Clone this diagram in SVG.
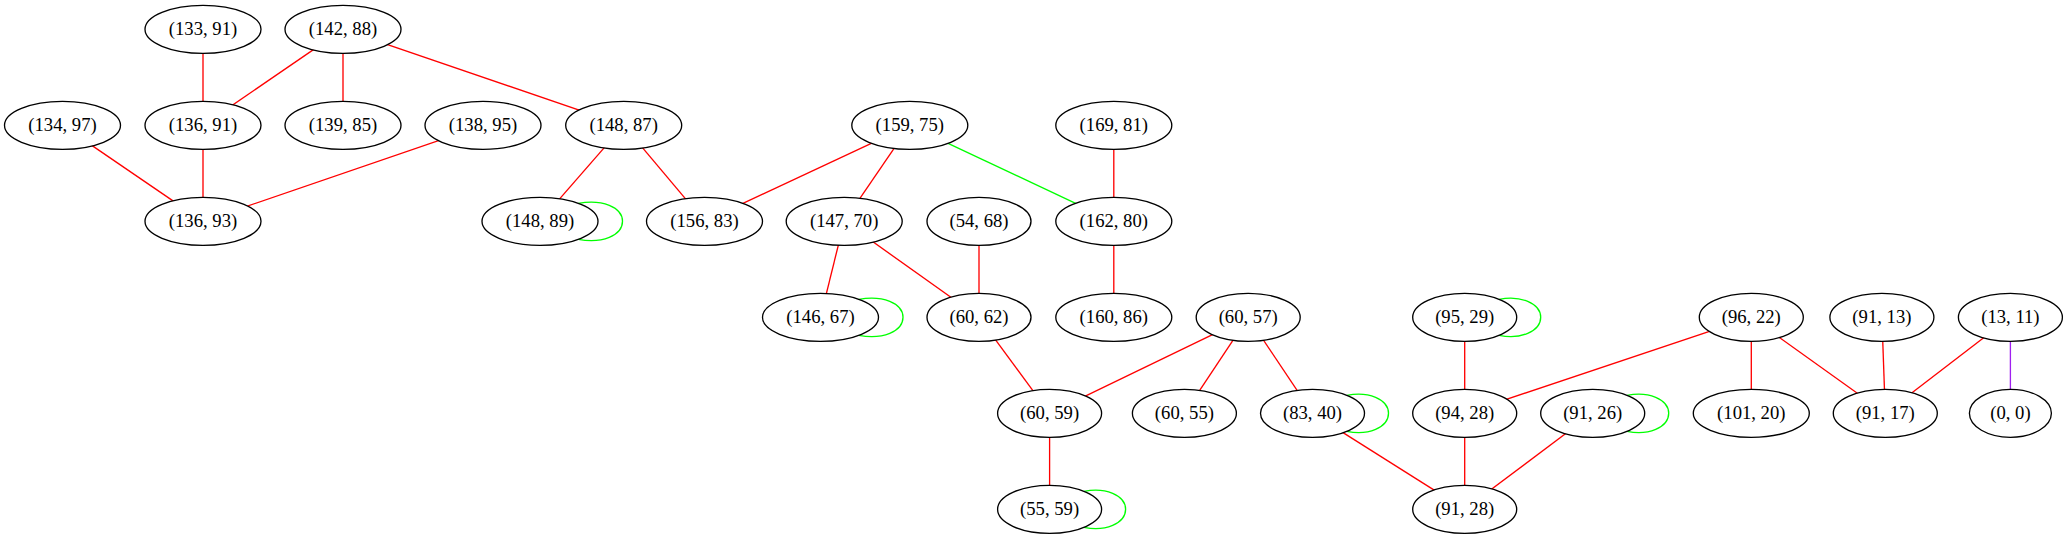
<svg xmlns="http://www.w3.org/2000/svg" width="2067" height="539" viewBox="0 0 2067 539">
<style>
.n ellipse{fill:#ffffff;stroke:#000000;stroke-width:1.33}
.n text{font-family:"Times New Roman","Liberation Serif",Times,serif;font-size:18.67px;text-anchor:middle;fill:#000000}
.e{fill:none;stroke-width:1.33}
.r{stroke:#ff0000}
.g{stroke:#00ff00}
.p{stroke:#a020f0}
</style>
<rect x="0" y="0" width="2067" height="539" fill="#ffffff"/>
<g id="edges">
<line class="e r" x1="203" y1="29.33" x2="203" y2="125.33"/>
<line class="e r" x1="343" y1="29.33" x2="203" y2="125.33"/>
<line class="e r" x1="343" y1="29.33" x2="343" y2="125.33"/>
<line class="e r" x1="343" y1="29.33" x2="623.7" y2="125.33"/>
<line class="e r" x1="62.5" y1="125.33" x2="203" y2="221.33"/>
<line class="e r" x1="203" y1="125.33" x2="203" y2="221.33"/>
<line class="e r" x1="483" y1="125.33" x2="203" y2="221.33"/>
<line class="e r" x1="623.7" y1="125.33" x2="540" y2="221.33"/>
<line class="e r" x1="623.7" y1="125.33" x2="704.5" y2="221.33"/>
<line class="e r" x1="909.8" y1="125.33" x2="704.5" y2="221.33"/>
<line class="e r" x1="909.8" y1="125.33" x2="844.2" y2="221.33"/>
<line class="e g" x1="909.8" y1="125.33" x2="1113.8" y2="221.33"/>
<line class="e r" x1="1113.8" y1="125.33" x2="1113.8" y2="221.33"/>
<line class="e r" x1="844.2" y1="221.33" x2="820.5" y2="317.33"/>
<line class="e r" x1="844.2" y1="221.33" x2="979" y2="317.33"/>
<line class="e r" x1="979" y1="221.33" x2="979" y2="317.33"/>
<line class="e r" x1="1113.8" y1="221.33" x2="1113.8" y2="317.33"/>
<line class="e r" x1="979" y1="317.33" x2="1049.6" y2="413.33"/>
<line class="e r" x1="1248.2" y1="317.33" x2="1049.6" y2="413.33"/>
<line class="e r" x1="1248.2" y1="317.33" x2="1184.4" y2="413.33"/>
<line class="e r" x1="1248.2" y1="317.33" x2="1312.5" y2="413.33"/>
<line class="e r" x1="1049.6" y1="413.33" x2="1049.6" y2="509.33"/>
<line class="e r" x1="1312.5" y1="413.33" x2="1464.7" y2="509.33"/>
<line class="e r" x1="1464.7" y1="317.33" x2="1464.7" y2="413.33"/>
<line class="e r" x1="1751.3" y1="317.33" x2="1464.7" y2="413.33"/>
<line class="e r" x1="1751.3" y1="317.33" x2="1751.3" y2="413.33"/>
<line class="e r" x1="1751.3" y1="317.33" x2="1885.3" y2="413.33"/>
<line class="e r" x1="1881.9" y1="317.33" x2="1885.3" y2="413.33"/>
<line class="e r" x1="2010.4" y1="317.33" x2="1885.3" y2="413.33"/>
<line class="e p" x1="2010.4" y1="317.33" x2="2010.4" y2="413.33"/>
<line class="e r" x1="1464.7" y1="413.33" x2="1464.7" y2="509.33"/>
<line class="e r" x1="1592.7" y1="413.33" x2="1464.7" y2="509.33"/>
<path class="e g" d="M578.3,203.33 C602,199 622.5,207 622.5,221.33 C622.5,235.7 602,243.7 578.3,239.33"/>
<path class="e g" d="M858.8,299.33 C882.5,295 903,303 903,317.33 C903,331.7 882.5,339.7 858.8,335.33"/>
<path class="e g" d="M1084,491.33 C1105,487 1125.6,495 1125.6,509.33 C1125.6,523.7 1105,531.7 1084,527.33"/>
<path class="e g" d="M1346.9,395.33 C1368,391 1388.5,399 1388.5,413.33 C1388.5,427.7 1368,435.7 1346.9,431.33"/>
<path class="e g" d="M1499.1,299.33 C1520,295 1540.7,303 1540.7,317.33 C1540.7,331.7 1520,339.7 1499.1,335.33"/>
<path class="e g" d="M1627.1,395.33 C1648,391 1668.7,399 1668.7,413.33 C1668.7,427.7 1648,435.7 1627.1,431.33"/>
</g>
<g id="n133_91" class="n"><ellipse cx="203" cy="29.33" rx="58" ry="24"/><text x="203" y="34.93">(133, 91)</text></g>
<g id="n142_88" class="n"><ellipse cx="343" cy="29.33" rx="58" ry="24"/><text x="343" y="34.93">(142, 88)</text></g>
<g id="n134_97" class="n"><ellipse cx="62.5" cy="125.33" rx="58" ry="24"/><text x="62.5" y="130.93">(134, 97)</text></g>
<g id="n136_91" class="n"><ellipse cx="203" cy="125.33" rx="58" ry="24"/><text x="203" y="130.93">(136, 91)</text></g>
<g id="n139_85" class="n"><ellipse cx="343" cy="125.33" rx="58" ry="24"/><text x="343" y="130.93">(139, 85)</text></g>
<g id="n138_95" class="n"><ellipse cx="483" cy="125.33" rx="58" ry="24"/><text x="483" y="130.93">(138, 95)</text></g>
<g id="n148_87" class="n"><ellipse cx="623.7" cy="125.33" rx="58" ry="24"/><text x="623.7" y="130.93">(148, 87)</text></g>
<g id="n159_75" class="n"><ellipse cx="909.8" cy="125.33" rx="58" ry="24"/><text x="909.8" y="130.93">(159, 75)</text></g>
<g id="n169_81" class="n"><ellipse cx="1113.8" cy="125.33" rx="58" ry="24"/><text x="1113.8" y="130.93">(169, 81)</text></g>
<g id="n136_93" class="n"><ellipse cx="203" cy="221.33" rx="58" ry="24"/><text x="203" y="226.93">(136, 93)</text></g>
<g id="n148_89" class="n"><ellipse cx="540" cy="221.33" rx="58" ry="24"/><text x="540" y="226.93">(148, 89)</text></g>
<g id="n156_83" class="n"><ellipse cx="704.5" cy="221.33" rx="58" ry="24"/><text x="704.5" y="226.93">(156, 83)</text></g>
<g id="n147_70" class="n"><ellipse cx="844.2" cy="221.33" rx="58" ry="24"/><text x="844.2" y="226.93">(147, 70)</text></g>
<g id="n54_68" class="n"><ellipse cx="979" cy="221.33" rx="52" ry="24"/><text x="979" y="226.93">(54, 68)</text></g>
<g id="n162_80" class="n"><ellipse cx="1113.8" cy="221.33" rx="58" ry="24"/><text x="1113.8" y="226.93">(162, 80)</text></g>
<g id="n146_67" class="n"><ellipse cx="820.5" cy="317.33" rx="58" ry="24"/><text x="820.5" y="322.93">(146, 67)</text></g>
<g id="n60_62" class="n"><ellipse cx="979" cy="317.33" rx="52" ry="24"/><text x="979" y="322.93">(60, 62)</text></g>
<g id="n160_86" class="n"><ellipse cx="1113.8" cy="317.33" rx="58" ry="24"/><text x="1113.8" y="322.93">(160, 86)</text></g>
<g id="n60_57" class="n"><ellipse cx="1248.2" cy="317.33" rx="52" ry="24"/><text x="1248.2" y="322.93">(60, 57)</text></g>
<g id="n95_29" class="n"><ellipse cx="1464.7" cy="317.33" rx="52" ry="24"/><text x="1464.7" y="322.93">(95, 29)</text></g>
<g id="n96_22" class="n"><ellipse cx="1751.3" cy="317.33" rx="52" ry="24"/><text x="1751.3" y="322.93">(96, 22)</text></g>
<g id="n91_13" class="n"><ellipse cx="1881.9" cy="317.33" rx="52" ry="24"/><text x="1881.9" y="322.93">(91, 13)</text></g>
<g id="n13_11" class="n"><ellipse cx="2010.4" cy="317.33" rx="52" ry="24"/><text x="2010.4" y="322.93">(13, 11)</text></g>
<g id="n60_59" class="n"><ellipse cx="1049.6" cy="413.33" rx="52" ry="24"/><text x="1049.6" y="418.93">(60, 59)</text></g>
<g id="n60_55" class="n"><ellipse cx="1184.4" cy="413.33" rx="52" ry="24"/><text x="1184.4" y="418.93">(60, 55)</text></g>
<g id="n83_40" class="n"><ellipse cx="1312.5" cy="413.33" rx="52" ry="24"/><text x="1312.5" y="418.93">(83, 40)</text></g>
<g id="n94_28" class="n"><ellipse cx="1464.7" cy="413.33" rx="52" ry="24"/><text x="1464.7" y="418.93">(94, 28)</text></g>
<g id="n91_26" class="n"><ellipse cx="1592.7" cy="413.33" rx="52" ry="24"/><text x="1592.7" y="418.93">(91, 26)</text></g>
<g id="n101_20" class="n"><ellipse cx="1751.3" cy="413.33" rx="58" ry="24"/><text x="1751.3" y="418.93">(101, 20)</text></g>
<g id="n91_17" class="n"><ellipse cx="1885.3" cy="413.33" rx="52" ry="24"/><text x="1885.3" y="418.93">(91, 17)</text></g>
<g id="n0_0" class="n"><ellipse cx="2010.4" cy="413.33" rx="41" ry="24"/><text x="2010.4" y="418.93">(0, 0)</text></g>
<g id="n55_59" class="n"><ellipse cx="1049.6" cy="509.33" rx="52" ry="24"/><text x="1049.6" y="514.93">(55, 59)</text></g>
<g id="n91_28" class="n"><ellipse cx="1464.7" cy="509.33" rx="52" ry="24"/><text x="1464.7" y="514.93">(91, 28)</text></g>
</svg>
